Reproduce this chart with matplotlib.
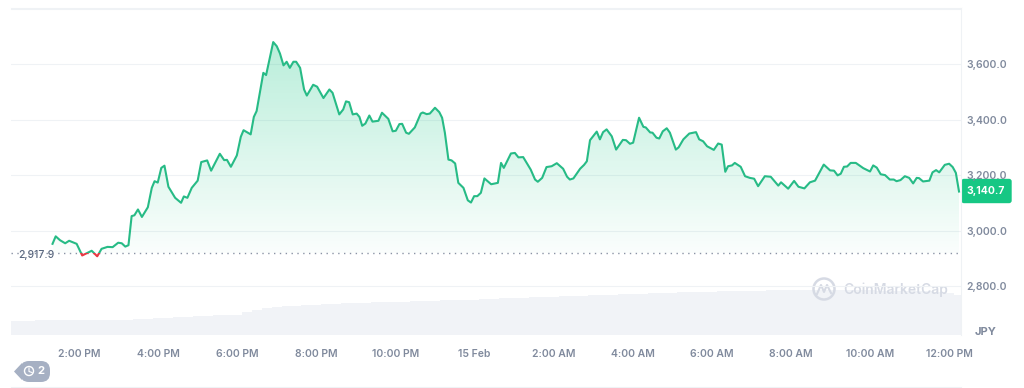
import matplotlib
matplotlib.use("Agg")
import matplotlib.pyplot as plt
import numpy as np
from matplotlib.colors import LinearSegmentedColormap
from matplotlib.patches import Circle, FancyBboxPatch, Polygon, Rectangle

plt.rcParams['font.family'] = ['Inter', 'DejaVu Sans']

# hours since midnight on 14 Feb
hours = [13.33, 13.41, 13.52, 13.65, 13.75, 13.94, 14.08, 14.32, 14.46, 14.57, 14.72, 14.85, 14.99, 15.08, 15.17,
         15.25, 15.33, 15.40, 15.49, 15.59, 15.74, 15.84, 15.91, 15.99, 16.08, 16.16, 16.26, 16.43, 16.58, 16.65,
         16.74, 16.85, 17.00, 17.09, 17.24, 17.34, 17.56, 17.67, 17.74, 17.84, 17.99, 18.09, 18.16, 18.34, 18.42,
         18.49, 18.66, 18.73, 18.91, 19.00, 19.08, 19.17, 19.25, 19.33, 19.42, 19.49, 19.59, 19.69, 19.76, 19.92,
         20.02, 20.18, 20.33, 20.41, 20.58, 20.68, 20.75, 20.83, 20.92, 21.02, 21.09, 21.16, 21.24, 21.34, 21.42,
         21.57, 21.66, 21.82, 21.93, 22.01, 22.10, 22.17, 22.27, 22.34, 22.49, 22.64, 22.69, 22.79, 22.87, 23.00,
         23.11, 23.18, 23.25, 23.34, 23.42, 23.51, 23.59, 23.72, 23.83, 23.91, 23.99, 24.07, 24.16, 24.25, 24.42,
         24.59, 24.67, 24.74, 24.92, 25.02, 25.11, 25.23, 25.42, 25.53, 25.60, 25.71, 25.82, 25.95, 26.08, 26.24,
         26.34, 26.41, 26.50, 26.67, 26.77, 26.84, 26.92, 27.09, 27.17, 27.25, 27.34, 27.47, 27.58, 27.75, 27.83,
         27.93, 28.01, 28.16, 28.27, 28.33, 28.44, 28.50, 28.60, 28.67, 28.76, 28.86, 28.94, 29.09, 29.16, 29.28,
         29.43, 29.60, 29.68, 29.78, 29.88, 30.05, 30.16, 30.25, 30.34, 30.41, 30.51, 30.58, 30.73, 30.84, 30.96,
         31.07, 31.17, 31.34, 31.49, 31.68, 31.75, 31.93, 32.08, 32.19, 32.34, 32.48, 32.61, 32.83, 32.99, 33.09,
         33.18, 33.26, 33.34, 33.42, 33.51, 33.64, 33.83, 34.00, 34.08, 34.17, 34.27, 34.38, 34.50, 34.60, 34.67,
         34.77, 34.88, 34.99, 35.09, 35.18, 35.24, 35.34, 35.50, 35.58, 35.67, 35.75, 35.89, 36.00, 36.09, 36.17,
         36.25]
price = [2952, 2979, 2965, 2954, 2963, 2952, 2910, 2927, 2907, 2934, 2941, 2940, 2956, 2954, 2942,
         2947, 3052, 3055, 3076, 3049, 3084, 3154, 3178, 3173, 3226, 3234, 3158, 3118, 3100, 3123,
         3118, 3154, 3180, 3247, 3253, 3216, 3277, 3254, 3255, 3230, 3271, 3338, 3362, 3347, 3410,
         3431, 3569, 3561, 3680, 3665, 3639, 3596, 3609, 3587, 3609, 3609, 3587, 3509, 3487, 3526,
         3519, 3478, 3509, 3497, 3419, 3437, 3466, 3463, 3419, 3422, 3410, 3378, 3386, 3415, 3393,
         3396, 3425, 3403, 3358, 3360, 3384, 3385, 3353, 3349, 3372, 3422, 3426, 3420, 3422, 3443,
         3427, 3407, 3353, 3256, 3253, 3242, 3172, 3154, 3109, 3101, 3124, 3124, 3136, 3188, 3167,
         3172, 3244, 3226, 3278, 3280, 3264, 3265, 3220, 3184, 3176, 3190, 3229, 3232, 3243, 3223,
         3194, 3184, 3188, 3223, 3237, 3250, 3326, 3357, 3329, 3355, 3365, 3340, 3292, 3327, 3326,
         3313, 3317, 3407, 3374, 3372, 3354, 3353, 3335, 3332, 3358, 3369, 3353, 3292, 3300, 3329,
         3350, 3355, 3329, 3322, 3304, 3291, 3314, 3310, 3212, 3232, 3235, 3244, 3230, 3196, 3190,
         3187, 3160, 3196, 3194, 3162, 3174, 3151, 3179, 3158, 3152, 3174, 3180, 3238, 3217, 3216,
         3199, 3205, 3230, 3231, 3244, 3244, 3225, 3213, 3235, 3227, 3203, 3200, 3184, 3184, 3178,
         3182, 3196, 3190, 3170, 3190, 3189, 3177, 3180, 3210, 3218, 3210, 3237, 3241, 3229, 3208,
         3140.7]

vol_hours = [12.25, 12.5, 12.75, 13.0, 13.25, 13.5, 13.75, 14.0,
             14.25, 14.5, 14.75, 15.0, 15.25, 15.5, 15.75, 16.0,
             16.25, 16.5, 16.75, 17.0, 17.25, 17.5, 17.75, 18.0,
             18.25, 18.5, 18.75, 19.0, 19.25, 19.5, 19.75, 20.0,
             20.25, 20.5, 20.75, 21.0, 21.25, 21.5, 21.75, 22.0,
             22.25, 22.5, 22.75, 23.0, 23.25, 23.5, 23.75, 24.0,
             24.25, 24.5, 24.75, 25.0, 25.25, 25.5, 25.75, 26.0,
             26.25, 26.5, 26.75, 27.0, 27.25, 27.5, 27.75, 28.0,
             28.25, 28.5, 28.75, 29.0, 29.25, 29.5, 29.75, 30.0,
             30.25, 30.5, 30.75, 31.0, 31.25, 31.5, 31.75, 32.0,
             32.25, 32.5, 32.75, 33.0, 33.25, 33.5, 33.75, 34.0,
             34.25, 34.5, 34.75, 35.0, 35.25, 35.5, 35.75, 36.0, 36.25]
volume = [14.5, 14.5, 14.5, 14.6, 14.6, 14.7, 14.8, 14.9,
          15, 15, 15.1, 15.2, 15.5, 15.9, 16.4, 17,
          17.5, 18, 18.5, 19, 19.3, 19.7, 20, 20.5,
          23, 25, 27, 28, 29, 29.5, 30, 30.5,
          31, 31.5, 32, 32.3, 32.5, 32.8, 33, 33.2,
          33.5, 33.7, 34, 34.3, 34.6, 35, 35.2, 35.5,
          36, 36.3, 36.6, 37, 37.3, 37.6, 38, 38.3,
          38.6, 39, 39.3, 39.6, 40, 40.3, 40.6, 41,
          41.3, 41.6, 42, 42.3, 42.6, 43, 43.2, 43.4,
          43.6, 43.8, 44, 44.2, 44.4, 44.6, 44.8, 45,
          45, 45, 45, 45, 45, 45, 44.8, 44.8,
          44.5, 44.5, 44.3, 44.2, 44, 43.8, 43.5, 42.5, 40]

x_ticks = [14, 16, 18, 20, 22, 24, 26, 28, 30, 32, 34, 36]
x_labels = ['2:00 PM', '4:00 PM', '6:00 PM', '8:00 PM', '10:00 PM', '15 Feb', '2:00 AM', '4:00 AM',
            '6:00 AM', '8:00 AM', '10:00 AM', '12:00 PM']
y_ticks = [2800, 3000, 3200, 3400, 3600]
base_price = 2917.9
last_price = 3140.7

green = '#27bb86'
red = '#ea3943'
label_grey = '#808a9d'
W, H = 1024, 388

fig = plt.figure(figsize=(W / 100, H / 100), dpi=100, facecolor='white')
ax = fig.add_axes([11 / W, 1 - 335 / H, 950 / W, 327 / H])
ax.set_xlim(12.28, 36.30)
ax.set_ylim(2623, 3803)

# volume sits on its own hidden scale
ax_vol = ax.twinx()
ax_vol.set_ylim(0, 327)
ax_vol.bar(vol_hours, volume, width=0.25, color='#f1f3f7', linewidth=0)
ax_vol.axis('off')
ax.set_zorder(ax_vol.get_zorder() + 1)
ax.patch.set_visible(False)

ax.set_yticks(y_ticks + [3800])
ax.grid(axis='y', color='#eff2f5', linewidth=0.8)
ax.set_axisbelow(True)
for s in ['left', 'bottom']:
    ax.spines[s].set_visible(False)
for s in ['top', 'right']:
    ax.spines[s].set_color('#eff2f5')
    ax.spines[s].set_linewidth(0.8)

# gradient fill above the opening price
fill = ax.fill_between(hours, price, base_price, where=np.array(price) >= base_price,
                       interpolate=True, color='none', linewidth=0)
cmap = LinearSegmentedColormap.from_list('g', [(0.09, 0.78, 0.52, 0.30), (0.09, 0.78, 0.52, 0.02)])
img = ax.imshow(np.linspace(0, 1, 256).reshape(-1, 1), cmap=cmap, aspect='auto', zorder=1,
                extent=[hours[0], hours[-1], base_price, max(price)], origin='upper', interpolation='bilinear')
paths = fill.get_paths()
verts = np.vstack([p.vertices for p in paths])
codes = np.concatenate([p.codes for p in paths])
img.set_clip_path(matplotlib.path.Path(verts, codes), transform=ax.transData)
ax.set_xlim(12.28, 36.30)
ax.set_ylim(2623, 3803)

ax.axhline(base_price, color='#8a93a5', linewidth=1.0, linestyle=(0, (1, 3.2)), zorder=2)

line_up, = ax.plot(hours, price, color=green, linewidth=1.5, zorder=3, solid_joinstyle='round')
line_up.set_clip_path(Rectangle((10, base_price), 30, 2000, transform=ax.transData))
line_down, = ax.plot(hours, price, color=red, linewidth=1.5, zorder=3, solid_joinstyle='round')
line_down.set_clip_path(Rectangle((10, 2000), 30, base_price - 2000, transform=ax.transData))

ax.set_xticks(x_ticks)
ax.set_xticklabels(x_labels)
ax.tick_params(axis='x', length=0, pad=10, labelsize=7.5, labelcolor=label_grey)
ax.yaxis.tick_right()
ax.tick_params(axis='y', length=0, pad=4, labelsize=7.5, labelcolor=label_grey)
ax.set_yticklabels([f'{v:,.1f}' for v in y_ticks] + [''])
for t in ax.get_xticklabels() + ax.get_yticklabels():
    t.set_fontweight('semibold')

# page furniture drawn in pixel coordinates
over = fig.add_axes([0, 0, 1, 1], facecolor='none')
over.set_xlim(0, W)
over.set_ylim(H, 0)
over.axis('off')

over.text(18, 255, f'{base_price:,.1f}', fontsize=7.5, color='#58667e', va='center', ha='left', fontweight='medium',
          bbox=dict(facecolor='white', edgecolor='none', pad=1.0, alpha=0.85))
over.add_patch(FancyBboxPatch((962, 179.5), 49, 23, boxstyle='round,pad=0,rounding_size=2', fc='#16c784', ec='#16c784', lw=1))
over.text(985.5, 191.5, f'{last_price:,.1f}', fontsize=7.5, color='white', fontweight='bold', ha='center', va='center')
over.text(986, 332, 'JPY', fontsize=8, color=label_grey, fontweight='bold', ha='center', va='center')

# watermark
wm = '#d6dae4'
over.add_patch(Circle((824, 289), 10.5, fc='none', ec=wm, lw=1.8))
over.plot([817, 821, 824, 827, 831], [294, 285, 292, 285, 293], color=wm, lw=1.5)
over.text(843, 289.5, 'CoinMarketCap', fontsize=10, color=wm, fontweight='semibold', ha='left', va='center')

# history chip
chip = '#a6b0c3'
over.add_patch(FancyBboxPatch((20, 361), 30, 21, boxstyle='round,pad=0,rounding_size=9', fc=chip, ec='none'))
over.add_patch(Polygon([[14, 371.5], [22, 363], [22, 380]], fc=chip, ec='none'))
over.add_patch(Circle((29, 371), 4.5, fc='none', ec='white', lw=1))
over.plot([29, 29, 32], [368, 371.5, 372.5], color='white', lw=0.8)
over.text(41, 371, '2', fontsize=8, color='white', fontweight='bold', ha='center', va='center')

# thin rule at the bottom of the card
over.plot([11, 961], [387, 387], color='#eff2f5', lw=0.8)

fig.savefig('out.png', dpi=100)
